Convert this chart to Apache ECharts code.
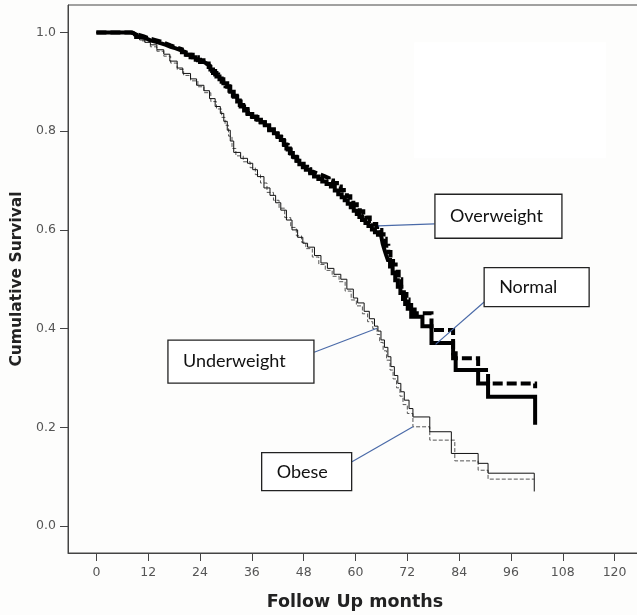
<!DOCTYPE html>
<html>
<head>
<meta charset="utf-8">
<script src="https://cdn.jsdelivr.net/npm/echarts@6/dist/echarts.min.js"></script>
<style>
html,body{margin:0;padding:0;background:#fdfdfc;}
#chart{width:637px;height:615px;}
</style>
</head>
<body>
<div id="chart"></div>
<script>
// ---- data (month, cumulative survival) ----
const xTicks = [0, 12, 24, 36, 48, 60, 72, 84, 96, 108, 120];
const yTicks = [0.0, 0.2, 0.4, 0.6, 0.8, 1.0];

const normal = [
  [0,1.000],[8.3,0.996],[9.2,0.991],[10.4,0.988],[11.5,0.984],[12.5,0.981],[13.8,0.978],[15,0.975],
  [16.1,0.971],[17.2,0.968],[18.4,0.964],[19.5,0.960],[20.7,0.955],[21.8,0.950],[23,0.945],[24,0.940],
  [24.9,0.936],[25.7,0.932],[26.4,0.925],[27,0.918],[27.8,0.911],[28.5,0.905],[29.4,0.897],[30.3,0.890],
  [31,0.880],[31.8,0.870],[32.6,0.860],[33.4,0.850],[34.2,0.842],[35,0.835],[36.1,0.829],[37.3,0.823],
  [38.1,0.818],[39,0.812],[40,0.804],[41.1,0.796],[41.9,0.789],[42.7,0.782],[43.4,0.773],[44,0.765],
  [44.8,0.756],[45.5,0.748],[46.3,0.740],[47,0.733],[47.8,0.727],[48.5,0.722],[49.5,0.715],[50.4,0.708],
  [51.4,0.703],[52.3,0.698],[53.3,0.693],[54.3,0.688],[55.2,0.680],[56,0.672],[56.8,0.666],[57.5,0.660],
  [58.2,0.653],[58.9,0.646],[59.6,0.639],[60.3,0.632],[60.9,0.626],[61.5,0.620],[62.3,0.614],[63,0.608],
  [63.8,0.601],[64.5,0.595],[65.2,0.590],[65.9,0.586],[66.3,0.572],[66.7,0.560],[67.1,0.549],[67.5,0.539],
  [68,0.526],[68.6,0.512],[69.2,0.498],[69.8,0.485],[70.4,0.472],[71,0.460],[71.5,0.450],[72.1,0.440],
  [72.9,0.424],[75.5,0.405],[77.6,0.371],[82.6,0.350],[83.2,0.316],[88.4,0.289],[90.7,0.262],[101.6,0.205]
];
const overweight = [
  [0,1.000],[8,0.996],[9.5,0.992],[11,0.988],[12.2,0.985],[13.5,0.982],[14.8,0.978],[16,0.974],
  [17.2,0.970],[18.5,0.966],[19.8,0.960],[21,0.955],[22.3,0.950],[23.5,0.944],[24.8,0.937],[26,0.930],
  [26.8,0.922],[27.5,0.915],[28.2,0.907],[29,0.900],[29.9,0.891],[30.8,0.882],[31.6,0.872],[32.5,0.862],
  [33.2,0.853],[34,0.845],[35,0.837],[36,0.830],[37,0.824],[38,0.818],[39,0.810],[40,0.802],
  [41,0.795],[42,0.788],[42.8,0.780],[43.5,0.772],[44.3,0.763],[45,0.755],[45.8,0.747],[46.5,0.740],
  [47.3,0.734],[48,0.728],[48.8,0.723],[49.5,0.718],[50.2,0.715],[51,0.712],[51.9,0.709],[52.8,0.705],
  [53.8,0.700],[54.8,0.695],[55.7,0.688],[56.6,0.681],[57.3,0.675],[58,0.668],[58.8,0.660],[59.5,0.652],
  [60.3,0.645],[61,0.638],[61.8,0.631],[62.5,0.625],[63.3,0.618],[64,0.612],[64.8,0.606],[65.5,0.600],
  [66,0.591],[66.5,0.582],[67,0.568],[67.6,0.555],[68.1,0.542],[68.7,0.530],[69.3,0.515],[70,0.500],
  [70.6,0.485],[71.2,0.470],[71.8,0.459],[72.3,0.448],[73.7,0.431],[77.6,0.397],[82.6,0.340],
  [88.4,0.316],[90.7,0.289],[101.6,0.279]
];
const underweight = [
  [0,1.000],[8.6,0.993],[10,0.985],[11.2,0.980],[12.5,0.975],[14,0.965],[15.6,0.956],[17,0.942],
  [18.7,0.928],[20,0.917],[21.8,0.906],[23.2,0.893],[24.9,0.882],[26.2,0.866],[27.5,0.850],
  [28.7,0.836],[29.5,0.820],[30.3,0.802],[31,0.780],[31.8,0.757],[33.4,0.745],[35,0.735],
  [36.2,0.722],[37.3,0.708],[38.8,0.685],[40.2,0.670],[41.5,0.655],[42.7,0.640],[44,0.620],
  [45.3,0.600],[46.6,0.585],[47.8,0.573],[48.9,0.565],[50.5,0.548],[52,0.533],[53.5,0.522],
  [55,0.510],[56.6,0.500],[58,0.480],[59.5,0.462],[60.5,0.452],[62,0.435],[63.2,0.420],
  [64.4,0.405],[65.2,0.395],[65.9,0.377],[66.7,0.362],[67.5,0.343],[68.2,0.323],[69,0.305],
  [69.8,0.289],[70.5,0.272],[71.3,0.255],[72.4,0.238],[73.3,0.221],[77.2,0.191],[82.2,0.147],
  [88.4,0.127],[90.7,0.107],[101.4,0.070]
];
const obese = [
  [0,1.000],[8.6,0.992],[10.5,0.983],[12.5,0.971],[14,0.962],[15.6,0.952],[17.2,0.938],
  [18.7,0.925],[20.2,0.913],[21.8,0.902],[23.5,0.890],[24.9,0.878],[26.5,0.860],[27.8,0.845],
  [29,0.828],[29.8,0.812],[30.6,0.790],[31.4,0.765],[32.3,0.750],[34,0.738],[35.6,0.726],
  [36.8,0.712],[38,0.695],[39.5,0.676],[41,0.660],[42.3,0.644],[43.6,0.625],[45,0.605],
  [46.3,0.588],[47.5,0.575],[48.5,0.562],[50,0.545],[51.5,0.530],[53,0.518],[54.6,0.506],
  [56.2,0.495],[57.6,0.476],[59,0.458],[60.2,0.446],[61.6,0.430],[62.8,0.414],[64,0.400],
  [65,0.388],[65.6,0.372],[66.4,0.355],[67.2,0.336],[68,0.316],[68.7,0.298],[69.5,0.280],
  [70.3,0.263],[71,0.246],[72,0.228],[73.3,0.201],[77.2,0.174],[83,0.132],[88.4,0.113],
  [90.7,0.095],[101.4,0.095]
];

// annotation labels: box center (month, survival), leader line from -> to (data coords)
const labelNames = ['Overweight', 'Normal', 'Underweight', 'Obese'];
const labelBoxCenter = [[93.1,0.6276],[101.95,0.4839],[33.47,0.333],[48.69,0.110]];
const labelBoxSize = [[127,44],[105,39],[146,43],[90,38]];
const leaderFrom = [[65.2,0.608],[78.55,0.368],[65.0,0.4006],[73.3,0.2012]];
const leaderTo = [[78.3,0.612],[89.8,0.4539],[50.43,0.352],[59.19,0.1303]];

const chart = echarts.init(document.getElementById('chart'), null, {renderer:'canvas'});

function kmSeries(name, data, width, color, type) {
  return {
    name, type:'line', data, step:'end', showSymbol:false, symbol:'none',
    lineStyle:{width, color, type, cap:'butt', join:'miter'},
    animation:false
  };
}

chart.setOption({
  backgroundColor:'#fdfdfc',
  animation:false,
  grid:{left:68, top:5, width:574, height:548, show:true, borderColor:'#444', borderWidth:1,
    backgroundColor:'transparent', containLabel:false, outerBoundsMode:'none'},
  xAxis:{
    type:'value', min:-6.58, max:126.35,
    name:'Follow Up months', nameLocation:'middle', nameGap:40,
    nameTextStyle:{fontFamily:'DejaVu Sans', fontWeight:'bold', fontSize:17.5, color:'#222'},
    axisLine:{show:true, onZero:false, lineStyle:{color:'#444', width:1}},
    axisTick:{show:true, length:8, inside:false, customValues:xTicks, lineStyle:{color:'#444'}},
    axisLabel:{customValues:xTicks, margin:13, fontFamily:'DejaVu Sans', fontSize:12.5, color:'#555'},
    splitLine:{show:false}
  },
  yAxis:{
    type:'value', min:-0.0547, max:1.0557,
    name:'Cumulative Survival', nameLocation:'middle', nameGap:40, nameRotate:90,
    nameTextStyle:{fontFamily:'DejaVu Sans', fontWeight:'bold', fontSize:15.5, color:'#222'},
    axisLine:{show:true, onZero:false, lineStyle:{color:'#444', width:1}},
    axisTick:{show:true, length:8, customValues:yTicks, lineStyle:{color:'#444'}},
    axisLabel:{customValues:yTicks, margin:12, fontFamily:'DejaVu Sans', fontSize:12.5, color:'#555',
      formatter:v => Number(v).toFixed(1)},
    splitLine:{show:false}
  },
  series:[
    kmSeries('Obese', obese, 1, '#555', [4,2]),
    kmSeries('Underweight', underweight, 1, '#111', 'solid'),
    kmSeries('Overweight', overweight, 4, '#000', [10,4]),
    kmSeries('Normal', normal, 4, '#000', 'solid')
  ]
});

function buildGraphics() {
  const g = [];
  // faint white patch in upper right of the original image
  const p1 = chart.convertToPixel({gridIndex:0}, [73.6, 0.98]);
  const p2 = chart.convertToPixel({gridIndex:0}, [118.0, 0.745]);
  g.push({type:'rect', z:0, silent:true, shape:{x:p1[0], y:p1[1], width:p2[0]-p1[0], height:p2[1]-p1[1]},
    style:{fill:'#ffffff'}});
  for (let i = 0; i < labelNames.length; i++) {
    const a = chart.convertToPixel({gridIndex:0}, leaderFrom[i]);
    const b = chart.convertToPixel({gridIndex:0}, leaderTo[i]);
    g.push({type:'line', z:10, shape:{x1:a[0], y1:a[1], x2:b[0], y2:b[1]},
      style:{stroke:'#4a6aa8', lineWidth:1.2}});
    const c = chart.convertToPixel({gridIndex:0}, labelBoxCenter[i]);
    const w = labelBoxSize[i][0], h = labelBoxSize[i][1];
    g.push({type:'rect', z:11, shape:{x:c[0]-w/2, y:c[1]-h/2, width:w, height:h},
      style:{fill:'#ffffff', stroke:'#222', lineWidth:1.3}});
    g.push({type:'text', z:12, x:c[0]-w/2+15, y:c[1],
      style:{text:labelNames[i], fontFamily:'Lato', fontSize:18, fill:'#111',
        verticalAlign:'middle', align:'left'}});
  }
  chart.setOption({graphic:g});
}
buildGraphics();
</script>
</body>
</html>
